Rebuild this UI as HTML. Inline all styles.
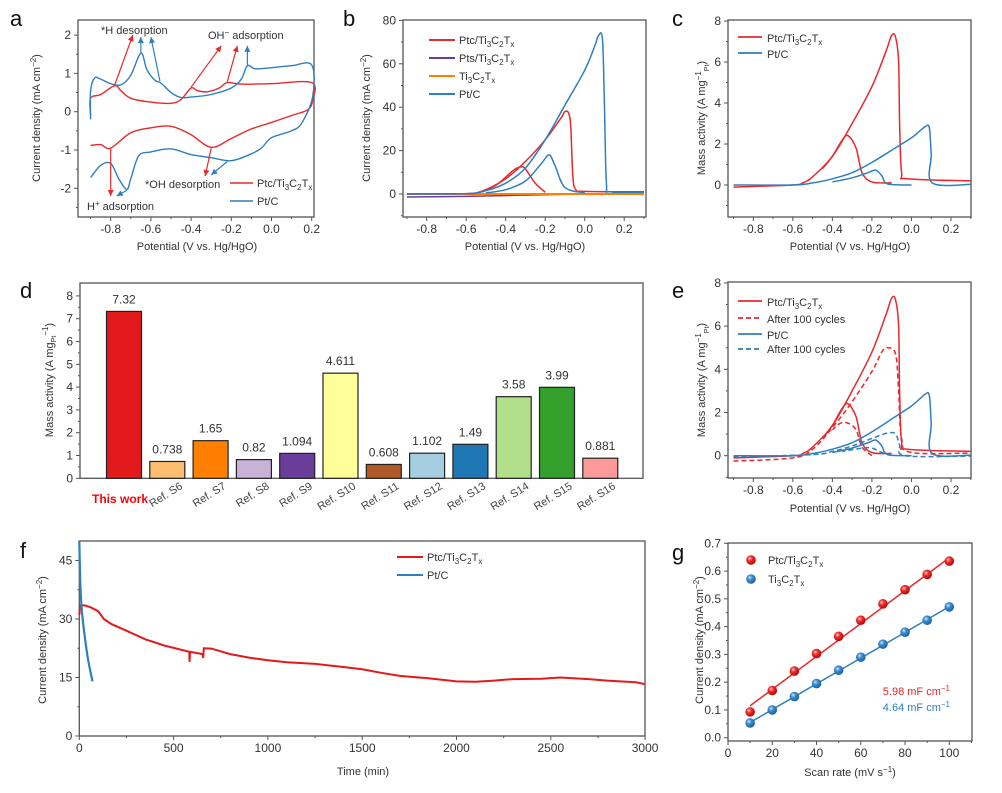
<!DOCTYPE html>
<html><head><meta charset="utf-8"><style>
html,body{margin:0;padding:0;background:#fff}
svg{display:block;font-family:"Liberation Sans",Arial,sans-serif}
</style></head><body>
<svg id="s" width="1002" height="793" viewBox="0 0 1002 793" xmlns="http://www.w3.org/2000/svg">
<defs>
<radialGradient id="gr" cx="0.38" cy="0.35" r="0.7"><stop offset="0" stop-color="#ffd0d0"/><stop offset="0.35" stop-color="#f03030"/><stop offset="1" stop-color="#b00000"/></radialGradient>
<radialGradient id="gb" cx="0.38" cy="0.35" r="0.7"><stop offset="0" stop-color="#d0e8ff"/><stop offset="0.35" stop-color="#3d8fd0"/><stop offset="1" stop-color="#1a5a95"/></radialGradient>
</defs>
<g font-size="22" fill="#111">
<text x="10" y="26">a</text><text x="343" y="26">b</text><text x="672" y="26">c</text>
<text x="20" y="298">d</text><text x="672" y="298">e</text><text x="20" y="558">f</text><text x="672" y="560">g</text>
</g>
<g id="plots"></g>
<g font-size="11" fill="#333">
<!-- a texts -->
<text x="101" y="34">*H desorption</text>
<text x="208" y="39">OH<tspan font-size="8" dy="-4">−</tspan><tspan dy="4"> adsorption</tspan></text>
<text x="145" y="188">*OH desorption</text>
<text x="87" y="210">H<tspan font-size="8" dy="-4">+</tspan><tspan dy="4"> adsorption</tspan></text>
<text x="257" y="187">Ptc/Ti<tspan font-size="8" dy="3">3</tspan><tspan dy="-3">C</tspan><tspan font-size="8" dy="3">2</tspan><tspan dy="-3">T</tspan><tspan font-size="8" dy="3">x</tspan></text>
<text x="257" y="205">Pt/C</text>
<text x="197" y="250" text-anchor="middle">Potential (V vs. Hg/HgO)</text>
<text transform="translate(40,118) rotate(-90)" text-anchor="middle">Current density (mA cm<tspan font-size="8" dy="-4">−2</tspan><tspan dy="4">)</tspan></text>
<!-- b texts -->
<text x="459" y="44">Ptc/Ti<tspan font-size="8" dy="3">3</tspan><tspan dy="-3">C</tspan><tspan font-size="8" dy="3">2</tspan><tspan dy="-3">T</tspan><tspan font-size="8" dy="3">x</tspan></text>
<text x="459" y="62">Pts/Ti<tspan font-size="8" dy="3">3</tspan><tspan dy="-3">C</tspan><tspan font-size="8" dy="3">2</tspan><tspan dy="-3">T</tspan><tspan font-size="8" dy="3">x</tspan></text>
<text x="459" y="80">Ti<tspan font-size="8" dy="3">3</tspan><tspan dy="-3">C</tspan><tspan font-size="8" dy="3">2</tspan><tspan dy="-3">T</tspan><tspan font-size="8" dy="3">x</tspan></text>
<text x="459" y="98">Pt/C</text>
<text x="525" y="250" text-anchor="middle">Potential (V vs. Hg/HgO)</text>
<text transform="translate(370,118) rotate(-90)" text-anchor="middle">Current density (mA cm<tspan font-size="8" dy="-4">−2</tspan><tspan dy="4">)</tspan></text>
<!-- c texts -->
<text x="767" y="42">Ptc/Ti<tspan font-size="8" dy="3">3</tspan><tspan dy="-3">C</tspan><tspan font-size="8" dy="3">2</tspan><tspan dy="-3">T</tspan><tspan font-size="8" dy="3">x</tspan></text>
<text x="767" y="58">Pt/C</text>
<text x="850" y="250" text-anchor="middle">Potential (V vs. Hg/HgO)</text>
<text transform="translate(705,118) rotate(-90)" text-anchor="middle">Mass activity (A mg<tspan font-size="8" dy="-4">−1</tspan><tspan font-size="7" dy="8">Pt</tspan><tspan dy="-4">)</tspan></text>
<!-- e texts -->
<text x="767" y="306">Ptc/Ti<tspan font-size="8" dy="3">3</tspan><tspan dy="-3">C</tspan><tspan font-size="8" dy="3">2</tspan><tspan dy="-3">T</tspan><tspan font-size="8" dy="3">x</tspan></text>
<text x="767" y="323">After 100 cycles</text>
<text x="767" y="339">Pt/C</text>
<text x="767" y="353">After 100 cycles</text>
<text x="850" y="512" text-anchor="middle">Potential (V vs. Hg/HgO)</text>
<text transform="translate(705,380) rotate(-90)" text-anchor="middle">Mass activity (A mg<tspan font-size="8" dy="-4">−1</tspan><tspan font-size="7" dy="8">Pt</tspan><tspan dy="-4">)</tspan></text>
<!-- d texts -->
<text transform="translate(53,380) rotate(-90)" text-anchor="middle">Mass activity (A mg<tspan font-size="7" dy="3">Pt</tspan><tspan font-size="8" dy="-8">−1</tspan><tspan dy="5">)</tspan></text>
<text x="92" y="503" fill="#f00" font-weight="bold" font-size="12">This work</text>
<!-- f texts -->
<text x="427" y="561">Ptc/Ti<tspan font-size="8" dy="3">3</tspan><tspan dy="-3">C</tspan><tspan font-size="8" dy="3">2</tspan><tspan dy="-3">T</tspan><tspan font-size="8" dy="3">x</tspan></text>
<text x="427" y="579">Pt/C</text>
<text x="363" y="775" text-anchor="middle">Time (min)</text>
<text transform="translate(46,640) rotate(-90)" text-anchor="middle">Current density (mA cm<tspan font-size="8" dy="-4">−2</tspan><tspan dy="4">)</tspan></text>
<!-- g texts -->
<text x="768" y="564">Ptc/Ti<tspan font-size="8" dy="3">3</tspan><tspan dy="-3">C</tspan><tspan font-size="8" dy="3">2</tspan><tspan dy="-3">T</tspan><tspan font-size="8" dy="3">x</tspan></text>
<text x="768" y="583">Ti<tspan font-size="8" dy="3">3</tspan><tspan dy="-3">C</tspan><tspan font-size="8" dy="3">2</tspan><tspan dy="-3">T</tspan><tspan font-size="8" dy="3">x</tspan></text>
<text x="950" y="695" text-anchor="end" fill="#e8282b">5.98 mF cm<tspan font-size="8" dy="-4">−1</tspan></text>
<text x="950" y="711" text-anchor="end" fill="#2e7fc0">4.64 mF cm<tspan font-size="8" dy="-4">−1</tspan></text>
<text x="850" y="776" text-anchor="middle">Scan rate (mV s<tspan font-size="8" dy="-4">−1</tspan><tspan dy="4">)</tspan></text>
<text transform="translate(703,640) rotate(-90)" text-anchor="middle">Current density (mA cm<tspan font-size="8" dy="-4">−2</tspan><tspan dy="4">)</tspan></text>
</g>
</svg>
<script>
var P=document.getElementById('plots');var H='';
var R='#e8282b',B='#2e7fc0';
function cr(pts){var d='M'+pts[0][0].toFixed(1)+','+pts[0][1].toFixed(1);
for(var i=0;i<pts.length-1;i++){var p0=pts[i-1]||pts[i],p1=pts[i],p2=pts[i+1],p3=pts[i+2]||p2;
var c1=[p1[0]+(p2[0]-p0[0])/6,p1[1]+(p2[1]-p0[1])/6],c2=[p2[0]-(p3[0]-p1[0])/6,p2[1]-(p3[1]-p1[1])/6];
d+='C'+c1[0].toFixed(1)+','+c1[1].toFixed(1)+' '+c2[0].toFixed(1)+','+c2[1].toFixed(1)+' '+p2[0].toFixed(1)+','+p2[1].toFixed(1);}return d;}
function line(fx,fy,data,col,w,dash,smooth){var pts=data.map(function(p){return [fx(p[0]),fy(p[1])]});
var d=smooth===false?'M'+pts.map(function(p){return p[0].toFixed(1)+','+p[1].toFixed(1)}).join('L'):cr(pts);
H+='<path d="'+d+'" fill="none" stroke="'+col+'" stroke-width="'+(w||1.5)+'"'+(dash?' stroke-dasharray="'+dash+'"':'')+' stroke-linejoin="round"/>';}
function axes(o){H+='<rect x="'+o.l+'" y="'+o.t+'" width="'+(o.r-o.l)+'" height="'+(o.b-o.t)+'" fill="none" stroke="#555" stroke-width="1.3"/>';
o.xt.forEach(function(t){var x=o.fx(t[0]);H+='<line x1="'+x+'" x2="'+x+'" y1="'+o.b+'" y2="'+(o.b+4)+'" stroke="#555"/>';
if(t[1]!=='')H+='<text x="'+x+'" y="'+(o.b+16)+'" font-size="12" fill="#333" text-anchor="middle">'+t[1]+'</text>';});
o.yt.forEach(function(t){var y=o.fy(t[0]);H+='<line x1="'+(o.l-4)+'" x2="'+o.l+'" y1="'+y+'" y2="'+y+'" stroke="#555"/>';
if(t[1]!=='')H+='<text x="'+(o.l-7)+'" y="'+(y+4)+'" font-size="12" fill="#333" text-anchor="end">'+t[1]+'</text>';});
(o.xm||[]).forEach(function(v){var x=o.fx(v);H+='<line x1="'+x+'" x2="'+x+'" y1="'+o.b+'" y2="'+(o.b+2)+'" stroke="#555"/>';});
(o.ym||[]).forEach(function(v){var y=o.fy(v);H+='<line x1="'+(o.l-2)+'" x2="'+o.l+'" y1="'+y+'" y2="'+y+'" stroke="#555"/>';});}
function arrow(x1,y1,x2,y2,col){var a=Math.atan2(y2-y1,x2-x1),L=6,W=3;
H+='<line x1="'+x1+'" y1="'+y1+'" x2="'+x2+'" y2="'+y2+'" stroke="'+col+'" stroke-width="1.2"/>';
var bx=x2-L*Math.cos(a),by=y2-L*Math.sin(a);
H+='<polygon points="'+x2+','+y2+' '+(bx+W*Math.sin(a))+','+(by-W*Math.cos(a))+' '+(bx-W*Math.sin(a))+','+(by+W*Math.cos(a))+'" fill="'+col+'"/>';}
var VT=[[-0.8,'-0.8'],[-0.6,'-0.6'],[-0.4,'-0.4'],[-0.2,'-0.2'],[0,'0.0'],[0.2,'0.2']];
var VM=[-0.9,-0.7,-0.5,-0.3,-0.1,0.1,0.3];
// ---- a
(function(){var fx=function(v){return 110.7+(v+0.8)*201},fy=function(j){return 111.7-j*38.3};
axes({l:78,r:314,t:20,b:217,fx:fx,fy:fy,xt:VT,xm:[-0.9,-0.7,-0.5,-0.3,-0.1,0.1],yt:[[2,'2'],[1,'1'],[0,'0'],[-1,'-1'],[-2,'-2']],ym:[1.5,0.5,-0.5,-1.5,-2.5]});
line(fx,fy,[[-0.9,-0.1],[-0.9,0.35],[-0.85,0.45],[-0.78,0.68],[-0.75,0.55],[-0.7,0.35],[-0.6,0.25],[-0.5,0.22],[-0.45,0.32],[-0.4,0.62],[-0.37,0.55],[-0.32,0.52],[-0.26,0.62],[-0.22,0.76],[-0.15,0.72],[0,0.73],[0.2,0.76],[0.205,0.3],[0.18,0.05],[0.1,-0.1],[0,-0.28],[-0.1,-0.45],[-0.2,-0.7],[-0.3,-0.93],[-0.4,-0.6],[-0.5,-0.38],[-0.6,-0.42],[-0.7,-0.55],[-0.8,-0.95],[-0.85,-0.86],[-0.9,-0.88]],R,1.4);
line(fx,fy,[[-0.9,-0.2],[-0.9,0.55],[-0.88,0.88],[-0.85,0.85],[-0.8,0.73],[-0.75,0.7],[-0.7,0.95],[-0.65,1.53],[-0.62,1.1],[-0.58,0.82],[-0.55,0.75],[-0.5,0.5],[-0.45,0.37],[-0.4,0.38],[-0.3,0.45],[-0.2,0.62],[-0.15,0.85],[-0.12,1.2],[-0.08,1.12],[0,1.15],[0.1,1.2],[0.2,1.22],[0.205,0.4],[0.15,-0.3],[0.1,-0.5],[0,-0.68],[-0.05,-0.95],[-0.1,-1.1],[-0.2,-1.28],[-0.3,-1.2],[-0.4,-1.12],[-0.5,-0.97],[-0.6,-1.05],[-0.66,-1.15],[-0.7,-1.75],[-0.72,-2.03],[-0.76,-1.75],[-0.8,-1.35],[-0.85,-1.4],[-0.9,-1.72]],B,1.4);
arrow(fx(-0.78),fy(0.7),fx(-0.69),fy(2.0),R);arrow(fx(-0.65),fy(1.55),fx(-0.65),fy(1.95),B);arrow(fx(-0.555),fy(0.8),fx(-0.6),fy(1.95),B);
arrow(fx(-0.4),fy(0.64),fx(-0.25),fy(1.72),R);arrow(fx(-0.22),fy(0.78),fx(-0.17),fy(1.72),R);arrow(fx(-0.12),fy(1.22),fx(-0.12),fy(1.72),B);
arrow(fx(-0.8),fy(-0.97),fx(-0.8),fy(-2.2),R);arrow(fx(-0.72),fy(-2.05),fx(-0.77),fy(-2.2),B);
arrow(fx(-0.3),fy(-0.95),fx(-0.33),fy(-1.68),R);arrow(fx(-0.22),fy(-1.3),fx(-0.3),fy(-1.65),B);
H+='<line x1="230" x2="253" y1="183" y2="183" stroke="'+R+'" stroke-width="1.5"/><line x1="230" x2="253" y1="201" y2="201" stroke="'+B+'" stroke-width="1.5"/>';})();
// ---- b
(function(){var fx=function(v){return 426.7+(v+0.8)*197.5},fy=function(j){return 194-j*2.17};
axes({l:403,r:646,t:20,b:217,fx:fx,fy:fy,xt:VT,xm:VM,yt:[[80,'80'],[60,'60'],[40,'40'],[20,'20'],[0,'0']],ym:[70,50,30,10,-10]});
line(fx,fy,[[-0.9,-1.4],[-0.6,-1.1],[-0.3,-0.5],[0,0],[0.3,0.2]],'#6a3d9a',1.5,null);
line(fx,fy,[[-0.9,0],[0.3,0]],'#ff8000',2,null,false);
line(fx,fy,[[-0.9,0],[-0.6,0.1],[-0.55,0.4],[-0.5,2],[-0.4,7],[-0.3,15],[-0.2,25],[-0.12,35],[-0.1,38],[-0.08,37],[-0.07,30],[-0.06,8],[-0.045,2],[0,1.2],[0.3,1]],R);
line(fx,fy,[[-0.2,0.8],[-0.25,5],[-0.3,11.5],[-0.32,12.5],[-0.36,11],[-0.45,4],[-0.55,0.4]],R);
line(fx,fy,[[-0.9,0],[-0.6,0.2],[-0.5,1.5],[-0.4,5],[-0.3,12],[-0.2,25],[-0.1,41],[0,57],[0.05,68],[0.07,73],[0.09,71],[0.1,40],[0.11,5],[0.13,1],[0.3,0.8]],B);
line(fx,fy,[[0.0,0.5],[-0.1,3],[-0.15,13],[-0.18,18],[-0.22,14],[-0.3,6],[-0.4,2],[-0.5,0.5]],B);
[[R,40],['#6a3d9a',58],['#ff8000',76],[B,94]].forEach(function(a){H+='<line x1="429" x2="455" y1="'+a[1]+'" y2="'+a[1]+'" stroke="'+a[0]+'" stroke-width="2"/>';});})();
// ---- c & e
function ce(t,b,fy,after){var fx=function(v){return 753.3+(v+0.8)*197.7};
axes({l:728,r:971,t:t,b:b,fx:fx,fy:fy,xt:VT,xm:VM,yt:[[8,'8'],[6,'6'],[4,'4'],[2,'2'],[0,'0']],ym:[7,5,3,1,-1]});
line(fx,fy,[[-0.9,-0.1],[-0.6,0],[-0.55,0.1],[-0.5,0.4],[-0.4,1.4],[-0.3,3.0],[-0.2,4.8],[-0.13,6.5],[-0.1,7.3],[-0.08,7.2],[-0.065,6],[-0.06,3],[-0.05,0.6],[-0.02,0.3],[0.3,0.2]],R);
line(fx,fy,[[-0.1,0.1],[-0.2,0.15],[-0.25,0.6],[-0.28,1.8],[-0.32,2.4],[-0.35,2.2],[-0.4,1.4],[-0.45,0.8]],R);
line(fx,fy,[[-0.9,0],[-0.6,0],[-0.5,0.1],[-0.4,0.3],[-0.3,0.6],[-0.2,1.1],[-0.1,1.7],[0,2.3],[0.05,2.7],[0.07,2.85],[0.09,2.8],[0.1,1.5],[0.105,0.1],[0.3,0.03]],B);
line(fx,fy,[[0,0],[-0.12,0.05],[-0.15,0.45],[-0.18,0.72],[-0.22,0.6],[-0.3,0.35],[-0.4,0.15]],B);
if(after){line(fx,fy,[[-0.9,-0.25],[-0.6,-0.1],[-0.5,0.3],[-0.4,1.3],[-0.3,2.5],[-0.2,3.9],[-0.15,4.8],[-0.12,5.0],[-0.08,4.7],[-0.065,3],[-0.05,0.8],[0,0.15],[0.3,0.12]],R,1.5,'5,3');
line(fx,fy,[[-0.2,0],[-0.25,0.4],[-0.28,1.2],[-0.32,1.5],[-0.36,1.5],[-0.4,1.2]],R,1.5,'5,3');
line(fx,fy,[[-0.9,-0.05],[-0.5,0.05],[-0.4,0.2],[-0.3,0.45],[-0.2,0.8],[-0.12,1.05],[-0.08,1.0],[-0.06,0.5],[-0.03,0],[0.3,-0.02]],B,1.5,'5,3');
line(fx,fy,[[-0.1,0],[-0.15,0.15],[-0.2,0.35],[-0.25,0.35],[-0.35,0.2]],B,1.5,'5,3');
[[R,301,''],[R,318,'5,3'],[B,334,''],[B,349,'5,3']].forEach(function(a){H+='<line x1="738" x2="762" y1="'+a[1]+'" y2="'+a[1]+'" stroke="'+a[0]+'" stroke-width="1.8"'+(a[2]?' stroke-dasharray="'+a[2]+'"':'')+'/>';});}
else{H+='<line x1="738" x2="762" y1="37" y2="37" stroke="'+R+'" stroke-width="1.8"/><line x1="738" x2="762" y1="53" y2="53" stroke="'+B+'" stroke-width="1.8"/>';}}
ce(20,217,function(j){return 185-j*20.5},false);
ce(282,478,function(j){return 455.7-j*21.6},true);
// ---- d
(function(){var fy=function(v){return 478.3-v*22.8};
axes({l:80,r:643,t:283,b:478.3,fx:function(x){return x},fy:fy,xt:[],yt:[[0,'0'],[1,'1'],[2,'2'],[3,'3'],[4,'4'],[5,'5'],[6,'6'],[7,'7'],[8,'8']],ym:[0.5,1.5,2.5,3.5,4.5,5.5,6.5,7.5]});
var v=[7.32,0.738,1.65,0.82,1.094,4.611,0.608,1.102,1.49,3.58,3.99,0.881],lab=['7.32','0.738','1.65','0.82','1.094','4.611','0.608','1.102','1.49','3.58','3.99','0.881'];
var c=['#e31a1c','#fdbf6f','#ff7f00','#cab2d6','#6a3d9a','#ffff99','#b15928','#a6cee3','#1f78b4','#b2df8a','#33a02c','#fb9a99'];
var names=['','Ref. S6','Ref. S7','Ref. S8','Ref. S9','Ref. S10','Ref. S11','Ref. S12','Ref. S13','Ref. S14','Ref. S15','Ref. S16'];
for(var i=0;i<12;i++){var cx=124+i*43.3,y=fy(v[i]);
H+='<rect x="'+(cx-17.5)+'" y="'+y+'" width="35" height="'+(478.3-y)+'" fill="'+c[i]+'" stroke="#222" stroke-width="1.2"/>';
H+='<text x="'+cx+'" y="'+(y-8)+'" font-size="12" fill="#333" text-anchor="middle">'+lab[i]+'</text>';
if(i>0)H+='<text transform="translate('+(cx+16)+',488) rotate(-32)" font-size="11" fill="#444" text-anchor="end">'+names[i]+'</text>';}})();
// ---- f
(function(){var fx=function(t){return 79.3+t*0.1886},fy=function(j){return 736-j*3.9};
axes({l:79.3,r:645,t:541,b:736,fx:fx,fy:fy,xt:[[0,'0'],[500,'500'],[1000,'1000'],[1500,'1500'],[2000,'2000'],[2500,'2500'],[3000,'3000']],xm:[250,750,1250,1750,2250,2750],yt:[[0,'0'],[15,'15'],[30,'30'],[45,'45']],ym:[7.5,22.5,37.5]});
var d=[[0,31],[5,33.5],[30,33.5],[60,33],[100,32],[130,30],[170,28.7],[250,27],[350,24.8],[450,23.2],[583,21.6],[585,19],[587,21.6],[655,21],[657,20],[660,22.5],[700,22.4],[800,21],[900,20.1],[1000,19.4],[1100,18.9],[1250,18.5],[1400,17.7],[1500,17.1],[1600,16.2],[1700,15.4],[1850,14.8],[2000,14.0],[2100,13.9],[2200,14.2],[2300,14.6],[2450,14.7],[2550,15],[2700,14.6],[2800,14.2],[2950,13.8],[3000,13.3]];
var pts=d.map(function(p){return [fx(p[0]),fy(p[1])]});
H+='<path d="M'+pts.map(function(p){return p[0].toFixed(1)+','+p[1].toFixed(1)}).join('L')+'" fill="none" stroke="#e31a1c" stroke-width="2"/>';
line(fx,fy,[[0,50],[5,40],[12,33],[25,27],[45,20],[70,14]],B,2.2);
H+='<line x1="397" x2="423" y1="557" y2="557" stroke="#e31a1c" stroke-width="2"/><line x1="397" x2="423" y1="575" y2="575" stroke="'+B+'" stroke-width="2"/>';})();
// ---- g
(function(){var fx=function(x){return 728+x*2.213},fy=function(j){return 737.7-j*277.7};
axes({l:728,r:972,t:543,b:741,fx:fx,fy:fy,xt:[[0,'0'],[20,'20'],[40,'40'],[60,'60'],[80,'80'],[100,'100']],xm:[10,30,50,70,90,110],yt:[[0,'0.0'],[0.1,'0.1'],[0.2,'0.2'],[0.3,'0.3'],[0.4,'0.4'],[0.5,'0.5'],[0.6,'0.6'],[0.7,'0.7']],ym:[0.05,0.15,0.25,0.35,0.45,0.55,0.65]});
var r=[0.093,0.17,0.24,0.303,0.365,0.423,0.482,0.533,0.588,0.636],b=[0.053,0.1,0.148,0.195,0.243,0.29,0.337,0.38,0.423,0.471];
H+='<line x1="'+fx(10)+'" y1="'+fy(0.115)+'" x2="'+fx(100)+'" y2="'+fy(0.648)+'" stroke="'+R+'" stroke-width="1.5"/>';
H+='<line x1="'+fx(10)+'" y1="'+fy(0.055)+'" x2="'+fx(100)+'" y2="'+fy(0.472)+'" stroke="'+B+'" stroke-width="1.5"/>';
for(var i=0;i<10;i++){H+='<circle cx="'+fx(10+10*i)+'" cy="'+fy(r[i])+'" r="4.8" fill="url(#gr)"/>';H+='<circle cx="'+fx(10+10*i)+'" cy="'+fy(b[i])+'" r="4.8" fill="url(#gb)"/>';}
H+='<circle cx="751" cy="560" r="4.8" fill="url(#gr)"/><circle cx="751" cy="579" r="4.8" fill="url(#gb)"/>';})();
P.innerHTML=H;
</script>
</body></html>
